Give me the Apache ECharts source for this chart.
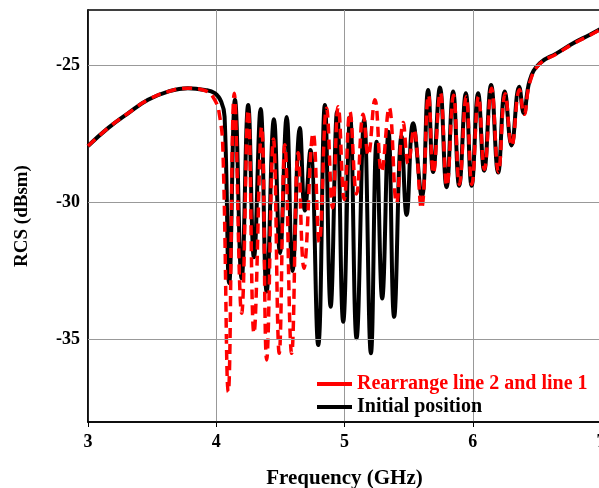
<!DOCTYPE html>
<html>
<head>
<meta charset="utf-8">
<script src="https://cdn.jsdelivr.net/npm/echarts@6/dist/echarts.min.js"></script>
<style>
  html, body { margin: 0; padding: 0; background: #fff; }
  #chart { width: 599px; height: 488px; }
</style>
</head>
<body>
<div id="chart"></div>
<script>
// axis ticks
const xTicks = [3, 4, 5, 6, 7]
const yTicks = [-35, -30, -25]

// Initial position (black, solid)
const blackFreq = [
  3.000, 3.156, 3.312, 3.468, 3.624, 3.779, 3.910, 3.988, 4.039, 4.065,
  4.101, 4.146, 4.198, 4.249, 4.294, 4.346, 4.393, 4.450, 4.497, 4.549,
  4.595, 4.652, 4.691, 4.734, 4.795, 4.847, 4.892, 4.942, 4.990, 5.044,
  5.094, 5.153, 5.206, 5.250, 5.294, 5.343, 5.387, 5.445, 5.484, 5.535,
  5.603, 5.652, 5.691, 5.744, 5.796, 5.847, 5.894, 5.946, 5.991, 6.042,
  6.089, 6.143, 6.198, 6.250, 6.302, 6.362, 6.398, 6.445, 6.523, 6.653,
  6.783, 6.913, 7.000
]
const blackRcs = [
  -27.95, -27.30, -26.76, -26.27, -25.97, -25.85, -25.91, -26.03, -26.34, -26.88,
  -32.95, -26.27, -32.77, -26.46, -32.00, -26.60, -33.25, -26.98, -31.85, -26.90,
  -32.50, -27.30, -30.30, -28.10, -35.20, -26.46, -33.80, -26.70, -34.35, -26.90,
  -34.95, -27.00, -35.50, -27.80, -33.50, -27.43, -34.17, -27.60, -30.46, -27.12,
  -29.80, -25.91, -28.90, -25.82, -29.45, -25.97, -29.40, -26.03, -29.40, -26.03,
  -28.85, -25.73, -28.92, -25.97, -27.93, -25.79, -26.76, -25.55, -24.94, -24.58,
  -24.21, -23.90, -23.68
]

// Rearrange line 2 and line 1 (red, dashed)
const redFreq = [
  3.000, 3.156, 3.312, 3.468, 3.624, 3.779, 3.910, 3.988, 4.027, 4.052,
  4.094, 4.141, 4.198, 4.249, 4.294, 4.354, 4.393, 4.446, 4.491, 4.535,
  4.588, 4.639, 4.684, 4.756, 4.803, 4.860, 4.907, 4.951, 4.998, 5.042,
  5.094, 5.146, 5.185, 5.237, 5.289, 5.348, 5.406, 5.458, 5.497, 5.540,
  5.600, 5.655, 5.693, 5.747, 5.798, 5.850, 5.896, 5.949, 5.993, 6.045,
  6.091, 6.146, 6.200, 6.253, 6.304, 6.364, 6.400, 6.447, 6.523, 6.653,
  6.783, 6.913, 7.000
]
const redRcs = [
  -27.95, -27.30, -26.76, -26.27, -25.97, -25.85, -25.93, -26.27, -26.88, -28.10,
  -36.90, -26.03, -34.04, -26.64, -34.77, -27.25, -35.74, -27.70, -35.50, -27.91,
  -35.50, -28.20, -32.40, -27.49, -31.45, -26.58, -30.20, -26.52, -29.90, -26.70,
  -29.70, -26.80, -28.30, -26.27, -28.90, -26.55, -30.04, -27.10, -28.60, -27.35,
  -30.22, -26.10, -28.95, -26.00, -29.40, -26.10, -29.35, -26.15, -29.35, -26.15,
  -28.80, -25.85, -28.90, -26.05, -27.95, -25.90, -26.80, -25.60, -24.96, -24.60,
  -24.23, -23.92, -23.70
]

const FONT = "'Liberation Serif', 'Times New Roman', serif"

const zip = (xs, ys) => xs.map((x, i) => [x, ys[i]])

const chart = echarts.init(document.getElementById('chart'), null, { renderer: 'canvas' })

const option = {
  animation: false,
  backgroundColor: '#fff',
  grid: {
    left: 88,
    top: 10,
    width: 513,
    height: 412,
    outerBoundsMode: 'none',
    containLabel: false,
    show: true,
    borderColor: '#000',
    borderWidth: 1.5,
    backgroundColor: 'transparent'
  },
  legend: {
    orient: 'vertical',
    left: 312,
    top: 369,
    itemWidth: 35,
    itemHeight: 4,
    itemGap: 3,
    textStyle: { fontFamily: FONT, fontWeight: 'bold', fontSize: 20 },
    data: [
      { name: 'Rearrange line 2 and line 1', icon: 'rect', textStyle: { color: '#ff0000' } },
      { name: 'Initial position', icon: 'rect', textStyle: { color: '#000' } }
    ]
  },
  xAxis: {
    type: 'value',
    min: 3,
    max: 7,
    interval: 1,
    name: 'Frequency (GHz)',
    nameLocation: 'middle',
    nameGap: 46,
    nameTextStyle: { fontFamily: FONT, fontWeight: 'bold', fontSize: 21, color: '#000' },
    axisLine: { lineStyle: { color: '#000', width: 1.5 } },
    axisTick: { show: true, length: 5, lineStyle: { color: '#000' } },
    axisLabel: {
      margin: 11,
      fontFamily: FONT, fontWeight: 'bold', fontSize: 18, color: '#000',
      customValues: xTicks
    },
    splitLine: { show: true, lineStyle: { color: '#999', width: 1 } }
  },
  yAxis: {
    type: 'value',
    min: -38,
    max: -23,
    name: 'RCS (dBsm)',
    nameLocation: 'middle',
    nameGap: 56,
    nameTextStyle: { fontFamily: FONT, fontWeight: 'bold', fontSize: 19, color: '#000' },
    axisLine: { show: true, lineStyle: { color: '#000', width: 1.5 } },
    axisTick: { show: false, customValues: yTicks },
    axisLabel: {
      margin: 8,
      fontFamily: FONT, fontWeight: 'bold', fontSize: 18, color: '#000',
      customValues: yTicks
    },
    splitLine: { show: false }
  },
  series: [
    {
      name: 'Initial position',
      type: 'line',
      data: zip(blackFreq, blackRcs),
      smooth: 0.45,
      symbol: 'none',
      lineStyle: { color: '#000', width: 4 },
      itemStyle: { color: '#000' },
      z: 2,
      markLine: {
        silent: true,
        symbol: 'none',
        label: { show: false },
        lineStyle: { color: '#999', width: 1, type: 'solid' },
        data: yTicks.map(v => ({ yAxis: v }))
      }
    },
    {
      name: 'Rearrange line 2 and line 1',
      type: 'line',
      data: zip(redFreq, redRcs),
      smooth: 0.45,
      symbol: 'none',
      lineStyle: { color: '#ff0000', width: 3.5, type: [10, 6] },
      itemStyle: { color: '#ff0000' },
      z: 3
    }
  ]
}

chart.setOption(option)
</script>
</body>
</html>
